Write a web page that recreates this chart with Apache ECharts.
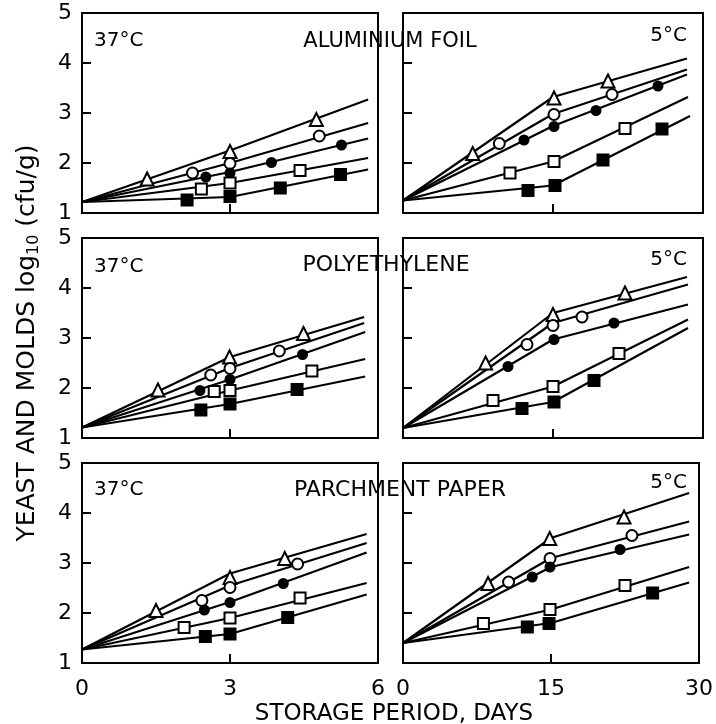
<!DOCTYPE html>
<html><head><meta charset="utf-8">
<script src="https://cdn.jsdelivr.net/npm/echarts@6/dist/echarts.min.js"></script>
<style>html,body{margin:0;padding:0;background:#fff}#c{width:716px;height:724px}</style>
</head><body><div id="c"></div><script>
// ---------- tick labels / axes ----------
const yTicks = [1, 2, 3, 4, 5];
const xTicksShort = [0, 3, 6];     // days, 37 °C panels
const xTicksLong = [0, 15, 30];    // days, 5 °C panels
const packaging = ['ALUMINIUM FOIL', 'POLYETHYLENE', 'PARCHMENT PAPER'];
const temps = ['37°C', '5°C'];

// ---------- ALUMINIUM FOIL, 37 °C ----------
const al37Tri  = [[1.32,1.68],[3.0,2.23],[4.75,2.87]];
const al37OCir = [[2.24,1.80],[3.0,1.99],[4.81,2.54]];
const al37FCir = [[2.51,1.72],[3.0,1.80],[3.84,2.01],[5.26,2.36]];
const al37OSq  = [[2.42,1.48],[3.0,1.60],[4.42,1.85]];
const al37FSq  = [[2.13,1.26],[3.0,1.33],[4.02,1.50],[5.24,1.77]];
const al37TriLine  = [[0,1.22],[3,2.25],[5.8,3.27]];
const al37OCirLine = [[0,1.22],[3,2.00],[5.8,2.80]];
const al37FCirLine = [[0,1.22],[3,1.82],[5.8,2.49]];
const al37OSqLine  = [[0,1.22],[3,1.60],[5.8,2.10]];
const al37FSqLine  = [[0,1.22],[3,1.32],[5.8,1.87]];

// ---------- ALUMINIUM FOIL, 5 °C ----------
const al5Tri  = [[6.97,2.19],[15.1,3.30],[20.5,3.64]];
const al5OCir = [[9.63,2.39],[15.1,2.97],[20.9,3.37]];
const al5FCir = [[12.1,2.46],[15.1,2.73],[19.3,3.05],[25.5,3.54]];
const al5OSq  = [[10.7,1.80],[15.1,2.03],[22.2,2.69]];
const al5FSq  = [[12.5,1.45],[15.2,1.55],[20.0,2.06],[25.9,2.68]];
const al5TriLine  = [[0,1.25],[15,3.32],[28.4,4.09]];
const al5OCirLine = [[0,1.25],[15,2.98],[28.4,3.87]];
const al5FCirLine = [[0,1.25],[15,2.74],[28.4,3.77]];
const al5OSqLine  = [[0,1.25],[15,2.03],[28.5,3.32]];
const al5FSqLine  = [[0,1.25],[15,1.55],[28.7,2.94]];

// ---------- POLYETHYLENE, 37 °C ----------
const pe37Tri  = [[1.54,1.96],[2.99,2.62],[4.49,3.09]];
const pe37OCir = [[2.61,2.26],[3.0,2.39],[4.0,2.74]];
const pe37FCir = [[2.39,1.95],[3.0,2.17],[4.47,2.67]];
const pe37OSq  = [[2.68,1.93],[3.0,1.95],[4.66,2.34]];
const pe37FSq  = [[2.41,1.56],[3.0,1.68],[4.36,1.97]];
const pe37TriLine  = [[0,1.21],[3,2.62],[5.72,3.42]];
const pe37OCirLine = [[0,1.21],[3,2.40],[5.72,3.30]];
const pe37FCirLine = [[0,1.21],[3,2.17],[5.74,3.12]];
const pe37OSqLine  = [[0,1.21],[3,1.95],[5.74,2.58]];
const pe37FSqLine  = [[0,1.21],[3,1.68],[5.74,2.23]];

// ---------- POLYETHYLENE, 5 °C ----------
const pe5Tri  = [[8.26,2.50],[15.0,3.47],[22.2,3.90]];
const pe5OCir = [[12.4,2.87],[15.0,3.25],[17.9,3.42]];
const pe5FCir = [[10.5,2.43],[15.1,2.97],[21.1,3.30]];
const pe5OSq  = [[9.0,1.75],[15.0,2.03],[21.6,2.69]];
const pe5FSq  = [[11.9,1.59],[15.1,1.72],[19.1,2.15]];
const pe5TriLine  = [[0,1.20],[15,3.50],[28.4,4.22]];
const pe5OCirLine = [[0,1.20],[15,3.30],[28.5,4.07]];
const pe5FCirLine = [[0,1.20],[15,2.97],[28.5,3.67]];
const pe5OSqLine  = [[0,1.20],[15,2.03],[28.5,3.37]];
const pe5FSqLine  = [[0,1.20],[15,1.72],[28.5,3.20]];

// ---------- PARCHMENT PAPER, 37 °C ----------
const pp37Tri  = [[1.5,2.05],[3.0,2.71],[4.11,3.09]];
const pp37OCir = [[2.43,2.25],[3.0,2.51],[4.37,2.98]];
const pp37FCir = [[2.48,2.06],[3.0,2.21],[4.08,2.59]];
const pp37OSq  = [[2.07,1.71],[3.0,1.90],[4.42,2.30]];
const pp37FSq  = [[2.5,1.53],[3.0,1.58],[4.17,1.91]];
const pp37TriLine  = [[0,1.27],[3,2.79],[5.77,3.58]];
const pp37OCirLine = [[0,1.27],[3,2.55],[5.77,3.40]];
const pp37FCirLine = [[0,1.27],[3,2.22],[5.77,3.21]];
const pp37OSqLine  = [[0,1.27],[3,1.90],[5.77,2.60]];
const pp37FSqLine  = [[0,1.27],[3,1.58],[5.77,2.37]];

// ---------- PARCHMENT PAPER, 5 °C ----------
const pp5Tri  = [[8.62,2.59],[14.87,3.49],[22.4,3.92]];
const pp5OCir = [[10.7,2.62],[14.9,3.09],[23.2,3.55]];
const pp5FCir = [[13.1,2.72],[14.9,2.92],[22.0,3.27]];
const pp5OSq  = [[8.15,1.79],[14.9,2.07],[22.5,2.55]];
const pp5FSq  = [[12.6,1.72],[14.8,1.79],[25.3,2.40]];
const pp5TriLine  = [[0,1.40],[15,3.50],[29,4.40]];
const pp5OCirLine = [[0,1.40],[15,3.10],[29,3.83]];
const pp5FCirLine = [[0,1.40],[15,2.92],[29,3.57]];
const pp5OSqLine  = [[0,1.40],[15,2.07],[29,2.92]];
const pp5FSqLine  = [[0,1.40],[15,1.80],[29,2.61]];

// ---------- assemble ----------
const panelData = [
  {m:[al37Tri,al37OCir,al37FCir,al37OSq,al37FSq], l:[al37TriLine,al37OCirLine,al37FCirLine,al37OSqLine,al37FSqLine]},
  {m:[al5Tri,al5OCir,al5FCir,al5OSq,al5FSq],      l:[al5TriLine,al5OCirLine,al5FCirLine,al5OSqLine,al5FSqLine]},
  {m:[pe37Tri,pe37OCir,pe37FCir,pe37OSq,pe37FSq], l:[pe37TriLine,pe37OCirLine,pe37FCirLine,pe37OSqLine,pe37FSqLine]},
  {m:[pe5Tri,pe5OCir,pe5FCir,pe5OSq,pe5FSq],      l:[pe5TriLine,pe5OCirLine,pe5FCirLine,pe5OSqLine,pe5FSqLine]},
  {m:[pp37Tri,pp37OCir,pp37FCir,pp37OSq,pp37FSq], l:[pp37TriLine,pp37OCirLine,pp37FCirLine,pp37OSqLine,pp37FSqLine]},
  {m:[pp5Tri,pp5OCir,pp5FCir,pp5OSq,pp5FSq],      l:[pp5TriLine,pp5OCirLine,pp5FCirLine,pp5OSqLine,pp5FSqLine]}
];
const markerDefs = [
  {symbol:'triangle', size:13, fill:'#fff'},
  {symbol:'circle',   size:11, fill:'#fff'},
  {symbol:'circle',   size:9,  fill:'#000'},
  {symbol:'rect',     size:11, fill:'#fff'},
  {symbol:'rect',     size:11, fill:'#000'}
];

const FONT = "'DejaVu Sans', sans-serif";
const gridLefts = [82, 403], gridWidths = [296, 300];
const gridTops = [13, 238, 463], gridH = 200;

const grids = [], xAxes = [], yAxes = [], series = [];
for (let r = 0; r < 3; r++) {
  for (let c = 0; c < 2; c++) {
    const i = r * 2 + c;
    grids.push({left: gridLefts[c], top: gridTops[r], width: gridWidths[c], height: gridH,
      show: true, borderColor: '#000', borderWidth: 2, backgroundColor: 'transparent'});
    const xt = c === 0 ? xTicksShort : xTicksLong;
    xAxes.push({type: 'value', gridIndex: i, min: xt[0], max: xt[2], interval: xt[1] - xt[0],
      axisLine: {show: true, onZero: false, lineStyle: {color: '#000', width: 2}},
      axisTick: {show: true, inside: true, length: 9, lineStyle: {color: '#000', width: 2}},
      axisLabel: {show: r === 2, margin: 15, color: '#000', fontSize: 22, fontFamily: FONT},
      splitLine: {show: false}});
    yAxes.push({type: 'value', gridIndex: i, min: yTicks[0], max: yTicks[yTicks.length - 1], interval: 1,
      axisLine: {show: true, onZero: false, lineStyle: {color: '#000', width: 2}},
      axisTick: {show: true, inside: true, length: 9, lineStyle: {color: '#000', width: 2}},
      axisLabel: {show: c === 0, margin: 10, color: '#000', fontSize: 22, fontFamily: FONT},
      splitLine: {show: false}});
    const p = panelData[i];
    p.l.forEach(line => series.push({type: 'line', xAxisIndex: i, yAxisIndex: i, data: line,
      showSymbol: false, symbol: 'none', z: 2, silent: true,
      lineStyle: {color: '#000', width: 2.2}}));
    p.m.forEach((pts, k) => {
      const d = markerDefs[k];
      series.push({type: 'scatter', xAxisIndex: i, yAxisIndex: i, data: pts, z: 3,
        symbol: d.symbol, symbolSize: d.size,
        itemStyle: {color: d.fill, borderColor: '#000', borderWidth: 2, opacity: 1}});
    });
  }
}

const txt = (x, y, text, align, size) => ({type: 'text', x, y, style: {text, x: 0, y: 0,
  fill: '#000', font: `${size}px ${FONT}`, align, verticalAlign: 'middle'}});
const graphics = [];
const rowTextY = [[41, 42, 36], [267, 265, 260], [490, 490, 483]];
const titleX = [390, 386, 400];
const titleSize = [21, 22, 22];
for (let r = 0; r < 3; r++) {
  graphics.push(txt(94, rowTextY[r][0], temps[0], 'left', 20));
  graphics.push(txt(titleX[r], rowTextY[r][1], packaging[r], 'center', titleSize[r]));
  graphics.push(txt(687, rowTextY[r][2], temps[1], 'right', 20));
}
graphics.push(txt(394, 714, 'STORAGE PERIOD, DAYS', 'center', 23));
graphics.push({type: 'text', x: 27, y: 343, rotation: Math.PI / 2,
  style: {text: '{a|YEAST AND MOLDS log}{s|10}{a| (cfu/g)}', x: 0, y: 0, align: 'center', verticalAlign: 'middle',
    fill: '#000',
    rich: {a: {fontSize: 25, fontFamily: FONT, lineHeight: 30, fill: '#000'},
           s: {fontSize: 16, fontFamily: FONT, lineHeight: 16, padding: [12, 0, 0, 0], verticalAlign: 'bottom', fill: '#000'}}}});

const chart = echarts.init(document.getElementById('c'), null, {renderer: 'canvas'});
chart.setOption({animation: false, backgroundColor: '#fff',
  grid: grids, xAxis: xAxes, yAxis: yAxes, series, graphic: graphics});
</script></body></html>
